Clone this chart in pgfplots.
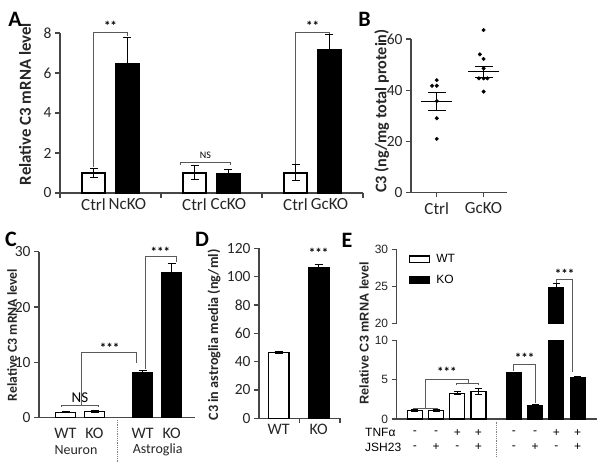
\documentclass[border=0pt]{standalone}
\usepackage{pgfplots}
\pgfplotsset{compat=1.18}
\usepackage{fontspec}
\setmainfont{Carlito}
\newfontfamily\arialfont{Liberation Sans}
\definecolor{axgray}{RGB}{70,70,70}
\definecolor{brgray}{RGB}{90,90,90}

\pgfplotsset{
  panel/.style={
    scale only axis, anchor=south west,
    axis x line=bottom, axis y line=left,
    axis line style={-, line width=1.1pt, draw=axgray},
    tick style={line width=1.1pt, draw=axgray},
    tick align=outside, major tick length=5pt,
    clip=false,
    yticklabel style={font=\fontsize{15.5}{17}\selectfont, text=black!85},
    xticklabel style={font=\fontsize{17}{19}\selectfont, text=black!85, yshift=-2pt},
    /pgf/number format/assume math mode=true,
  },
  wbar/.style={fill=white, draw=black, line width=1.2pt, bar shift=0pt},
  kbar/.style={fill=black, draw=black, line width=1.2pt, bar shift=0pt},
  errs/.style={error bars/.cd, y dir=both, y explicit,
    error bar style={line width=1pt, black},
    error mark options={rotate=90, mark size=#1, line width=1pt}},
  errs/.default=4pt,
}
\tikzset{
  br/.style={draw=brgray, line width=1pt},
  st/.style={font=\bfseries\fontsize{13}{14}\selectfont, inner sep=0pt},
  plab/.style={font=\bfseries\fontsize{22}{24}\selectfont, inner sep=0pt},
}

\begin{document}
\begin{tikzpicture}
\useasboundingbox (0pt,0pt) rectangle (600pt,474pt);

% ---- A
\begin{axis}[panel, ybar, at={(60pt,281pt)}, width=303pt, height=160pt,
  xmin=0, xmax=3, ymin=0, ymax=8, ytick={0,2,4,6,8}, bar width=0.228,
  xtick={0,1,2,3}, xticklabels={,,,,},
  extra x ticks={0.332,0.668,1.332,1.668,2.332,2.668},
  extra x tick labels={Ctrl,NcKO,Ctrl,CcKO,Ctrl,GcKO},
  extra x tick style={major tick length=0pt}]
\addplot[wbar, errs] coordinates {(0.332,1.0) +- (0,0.22) (1.332,1.0) +- (0,0.35) (2.332,1.0) +- (0,0.4)};
\addplot[kbar, errs] coordinates {(0.668,6.45) +- (0,1.3) (1.668,0.95) +- (0,0.2) (2.668,7.18) +- (0,0.75)};
\draw[br] (axis cs:0.332,1.32) -- (axis cs:0.332,8.03) -- (axis cs:0.668,8.03) -- (axis cs:0.668,7.85);
\node[st] at (axis cs:0.5,8.35) {**};
\draw[br] (axis cs:1.19,1.42) -- (axis cs:1.19,1.52) -- (axis cs:1.69,1.52) -- (axis cs:1.69,1.42);
\node[font=\fontsize{10}{11}\selectfont] at (axis cs:1.44,1.9) {NS};
\draw[br] (axis cs:2.332,1.47) -- (axis cs:2.332,8.03) -- (axis cs:2.668,8.03) -- (axis cs:2.668,7.97);
\node[st] at (axis cs:2.5,8.35) {**};
\end{axis}

% ---- B
\begin{axis}[panel, at={(411pt,281.7pt)}, width=96pt, height=153.3pt,
  xmin=0.45, xmax=2.5, ymin=0, ymax=60, ytick={0,20,40,60},
  xtick={1,2}, xticklabels={Ctrl,GcKO}]
\addplot[only marks, mark=*, mark size=1.8pt, black] coordinates {
  (1,43.9) (0.9,41.7) (1,41.7) (1,35.7) (1,29.0) (1,20.9)
  (2,63.5) (1.92,54.0) (2,52.2) (2,48.5) (1.9,44.6) (2,44.6) (2.08,44.6) (2,39.4)};
\addplot[only marks, mark=-, mark size=15.5pt, black, line width=1pt, errs=9pt] coordinates {
  (1,35.5) +- (0,3.6) (2,47.1) +- (0,2.2)};
\end{axis}

% ---- C
\begin{axis}[panel, ybar, at={(39pt,56.3pt)}, width=156pt, height=166pt,
  xmin=0, xmax=156, ymin=0, ymax=30, ytick={0,10,20,30}, bar width=20,
  xtick={26.5,55.5,103.7,132.7}, xticklabels={WT,KO,WT,KO}, xtick style={draw=none},
  xticklabel style={font=\fontsize{16}{18}\selectfont}]
\addplot[wbar, errs] coordinates {(26.5,1.0) +- (0,0.12) (55.5,1.15) +- (0,0.12)};
\addplot[kbar, errs] coordinates {(103.7,8.2) +- (0,0.4) (132.7,26.2) +- (0,1.7)};
\draw[br] (axis cs:22.7,1.95) -- (axis cs:22.7,2.16) -- (axis cs:59.3,2.16) -- (axis cs:59.3,1.95);
\node[font=\fontsize{15}{16}\selectfont] at (axis cs:41,3.6) {NS};
\draw[br] (axis cs:42,2.16) -- (axis cs:42,11.7) -- (axis cs:97.7,11.7) -- (axis cs:97.7,9.8);
\node[st] at (axis cs:70.7,12.6) {***};
\draw[br] (axis cs:106,8.8) -- (axis cs:106,29.1) -- (axis cs:137.7,29.1) -- (axis cs:137.7,28.2);
\node[st] at (axis cs:121.3,29.9) {***};
\node[font=\fontsize{14}{15}\selectfont, text=black!85] at (axis cs:37,-5.84) {Neuron};
\node[font=\fontsize{14}{15}\selectfont, text=black!85] at (axis cs:118.7,-5.84) {Astroglia};
\draw[densely dotted, gray, line width=0.8pt] (axis cs:78.7,-0.4) -- (axis cs:78.7,-8.2);
\end{axis}

% ---- D
\begin{axis}[panel, ybar, at={(259pt,55.7pt)}, width=81pt, height=170pt,
  xmin=0, xmax=81, ymin=0, ymax=120, ytick={0,20,40,60,80,100,120}, bar width=20.7,
  xtick={40.3,81}, xticklabels={,},
  extra x ticks={19.7,59.7}, extra x tick labels={WT,KO},
  extra x tick style={major tick length=0pt},
  xticklabel style={font=\fontsize{16}{18}\selectfont}]
\addplot[wbar, errs] coordinates {(19.7,46.3) +- (0,0.8)};
\addplot[kbar, errs] coordinates {(59.7,106.6) +- (0,2.2)};
\node[st] at (axis cs:59.7,116.5) {***};
\end{axis}

% ---- E, lower part
\begin{axis}[panel, ybar, at={(396.7pt,55pt)}, width=200pt, height=78.3pt,
  xmin=0.147, xmax=9.57, ymin=0, ymax=10, ytick={0,5,10}, xtick=\empty,
  bar width=0.707, clip=true, clip mode=individual,
  yticklabel style={font=\arialfont\fontsize{12}{14}\selectfont}]
\addplot[wbar, errs=3.5pt] coordinates {(1,1.05) +- (0,0.1) (2,1.05) +- (0,0.1) (3,3.3) +- (0,0.2) (4,3.5) +- (0,0.4)};
\addplot[kbar, errs=3.5pt] coordinates {(5.67,5.9) +- (0,0.1) (6.67,1.7) +- (0,0.1) (7.67,24.86) +- (0,0.55) (8.67,5.25) +- (0,0.15)};
\draw[br] (axis cs:0.92,1.25) -- (axis cs:0.92,1.37) -- (axis cs:2.05,1.37) -- (axis cs:2.05,1.25);
\draw[br] (axis cs:1.5,1.37) -- (axis cs:1.5,5.07) -- (axis cs:3.52,5.07) -- (axis cs:3.52,4.47);
\draw[br] (axis cs:2.97,4.3) -- (axis cs:2.97,4.47) -- (axis cs:3.98,4.47) -- (axis cs:3.98,4.3);
\node[st] at (axis cs:2.51,6.04) {***};
\draw[br] (axis cs:5.67,6.1) -- (axis cs:5.67,6.9) -- (axis cs:6.67,6.9) -- (axis cs:6.67,2.0);
\node[st] at (axis cs:6.17,7.75) {***};
\draw[br] (axis cs:7.67,17.3) -- (axis cs:7.67,17.84) -- (axis cs:8.44,17.84) -- (axis cs:8.44,6.04);
\node[st] at (axis cs:8.06,18.6) {***};
\foreach \x/\t/\j in {1/-/-, 2/-/+, 3/+/-, 4/+/+, 5.67/-/-, 6.67/-/+, 7.67/+/-, 8.67/+/+} {
  \edef\tmp{\noexpand\node[font=\noexpand\arialfont\noexpand\fontsize{12}{13}\noexpand\selectfont] at (axis cs:\x,-1.75) {\t};
    \noexpand\node[font=\noexpand\arialfont\noexpand\fontsize{12}{13}\noexpand\selectfont] at (axis cs:\x,-3.61) {\j};}
  \tmp
}
\end{axis}

% ---- E, upper part
\begin{axis}[panel, ybar, at={(396.7pt,150.7pt)}, width=200pt, height=74pt,
  xmin=0.147, xmax=9.57, ymin=20, ymax=30, ytick={20,25,30},
  axis x line=none, xtick=\empty, bar width=0.707, clip=true,
  yticklabel style={font=\arialfont\fontsize{12}{14}\selectfont},
  legend style={at={(axis description cs:0.058,0.96)}, anchor=north west,
    draw=none, fill=none, inner sep=0pt, row sep=7pt,
    font=\arialfont\fontsize{12}{14}\selectfont},
  legend cell align=left]
\addlegendimage{legend image code/.code={\draw[fill=white, draw=black, line width=1.2pt] (0pt,-3.3pt) rectangle (20pt,3.3pt); \path (25pt,0pt);}}
\addlegendentry{WT}
\addlegendimage{legend image code/.code={\draw[fill=black, draw=black, line width=1.2pt] (0pt,-3.3pt) rectangle (20pt,3.3pt); \path (25pt,0pt);}}
\addlegendentry{KO}
\addplot[kbar, forget plot, errs=3.5pt] coordinates {(7.67,24.86) +- (0,0.55)};
\end{axis}

% labels
\node[font=\bfseries\fontsize{16.8}{18}\selectfont, rotate=90, text=black!85] at (25pt,370pt) {Relative C3 mRNA level};
\node[font=\bfseries\fontsize{16.2}{18}\selectfont, rotate=90, text=black!85] at (381.7pt,363pt) {C3 (ng/mg total protein)};
\node[font=\bfseries\fontsize{13.7}{15}\selectfont, rotate=90, text=black!85] at (12pt,139pt) {Relative C3 mRNA level};
\node[font=\bfseries\fontsize{14.2}{15}\selectfont, rotate=90, text=black!85] at (214pt,139pt) {C3 in astroglia media (ng/ml)};
\node[font=\arialfont\bfseries\fontsize{12.7}{14}\selectfont, rotate=90, text=black!85] at (364pt,141pt) {Relative C3 mRNA level};
\node[font=\arialfont\fontsize{12}{13}\selectfont, anchor=west] at (361.7pt,41.3pt) {TNFα};
\node[font=\arialfont\fontsize{12}{13}\selectfont, anchor=west] at (361.7pt,26.7pt) {JSH23};
\draw[densely dotted, gray, line width=0.8pt] (496.7pt,52.3pt) -- (496.7pt,17.3pt);
\node[plab] at (15pt,454.5pt) {A};
\node[plab] at (364.5pt,455pt) {B};
\node[plab] at (11pt,235pt) {C};
\node[plab] at (202pt,235pt) {D};
\node[plab] at (347pt,234pt) {E};
\end{tikzpicture}
\end{document}
